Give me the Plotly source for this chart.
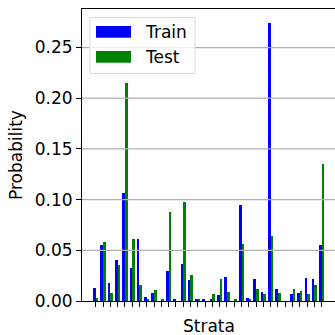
import plotly.graph_objects as go

strata = list(range(32))
train = [0.013, 0.0555, 0.018, 0.040, 0.1065, 0.0325, 0.061, 0.004, 0.008, 0.0,
         0.0296, 0.001, 0.0365, 0.0207, 0.0013, 0.001, 0.001, 0.006, 0.0237, 0.0,
         0.0947, 0.003, 0.022, 0.009, 0.274, 0.0118, 0.0, 0.007, 0.008, 0.0227,
         0.0217, 0.055]
test = [0.003, 0.058, 0.008, 0.0355, 0.215, 0.061, 0.0158, 0.002, 0.011, 0.002,
        0.0878, 0.0, 0.0976, 0.026, 0.002, 0.0, 0.007, 0.0217, 0.009, 0.001,
        0.0562, 0.001, 0.0118, 0.007, 0.0644, 0.008, 0.0, 0.0118, 0.0098, 0.007,
        0.0158, 0.135]
yticks = [0.0, 0.05, 0.10, 0.15, 0.20, 0.25]

W = 0.36
FONT = "DejaVu Sans"
FS = 17

fig = go.Figure()
fig.add_trace(go.Bar(x=strata, y=train, name="Train", marker_color="#0000ff",
                     marker_line_width=0, width=W, offset=-W))
fig.add_trace(go.Bar(x=strata, y=test, name="Test", marker_color="#008000",
                     marker_line_width=0, width=W, offset=0))


def px_x(px):
    return (px - 82) / (335 - 82)


def px_y(py):
    return (301 - py) / (301 - 9)


# grid lines drawn above bars (as in reference)
shapes = []
for t in yticks[1:]:
    shapes.append(dict(type="line", xref="paper", x0=0, x1=1, yref="y", y0=t, y1=t,
                       line=dict(color="#b0b0b0", width=1.2), layer="above"))

# legend box (matplotlib-like)
shapes.append(dict(type="rect", xref="paper", yref="paper",
                   x0=px_x(90), x1=px_x(195), y0=px_y(73.5), y1=px_y(17.5),
                   line=dict(color="#d9d9d9", width=1),
                   fillcolor="rgba(255,255,255,0.8)", layer="above"))
shapes.append(dict(type="rect", xref="paper", yref="paper",
                   x0=px_x(96), x1=px_x(131), y0=px_y(37.7), y1=px_y(26),
                   line=dict(width=0), fillcolor="#0000ff", layer="above"))
shapes.append(dict(type="rect", xref="paper", yref="paper",
                   x0=px_x(96), x1=px_x(131), y0=px_y(62.7), y1=px_y(51),
                   line=dict(width=0), fillcolor="#008000", layer="above"))

annotations = [
    dict(text="Train", xref="paper", yref="paper", x=px_x(143), y=px_y(32),
         xanchor="left", yanchor="middle", showarrow=False,
         font=dict(family=FONT, size=FS, color="#000000")),
    dict(text="Test", xref="paper", yref="paper", x=px_x(143), y=px_y(57),
         xanchor="left", yanchor="middle", showarrow=False,
         font=dict(family=FONT, size=FS, color="#000000")),
    dict(text="Strata", xref="paper", yref="paper", x=0.5, y=px_y(326),
         xanchor="center", yanchor="middle", showarrow=False,
         font=dict(family=FONT, size=FS, color="#000000")),
    dict(text="Probability", xref="paper", yref="paper", x=px_x(16), y=0.5,
         xanchor="center", yanchor="middle", showarrow=False, textangle=-90,
         font=dict(family=FONT, size=FS, color="#000000")),
]

fig.update_layout(
    width=335, height=335,
    margin=dict(l=82, r=0, t=9, b=34),
    paper_bgcolor="white", plot_bgcolor="white",
    barmode="overlay", bargap=0,
    showlegend=False,
    shapes=shapes, annotations=annotations,
    font=dict(family=FONT, size=FS, color="#000000"),
    xaxis=dict(range=[-1.88, 32.82], tickmode="array", tickvals=strata,
               showticklabels=False, ticks="outside", ticklen=5, tickwidth=1,
               tickcolor="black", showgrid=False, zeroline=False,
               showline=True, linecolor="black", linewidth=1, mirror=True),
    yaxis=dict(range=[0, 0.288], tickmode="array", tickvals=yticks,
               ticktext=[f"{v:.2f}" for v in yticks],
               ticks="outside", ticklen=5, tickwidth=1, tickcolor="black",
               showgrid=False, zeroline=False,
               showline=True, linecolor="black", linewidth=1, mirror=True,
               tickfont=dict(family=FONT, size=FS, color="#000000")),
)

fig.write_html("out.html")
